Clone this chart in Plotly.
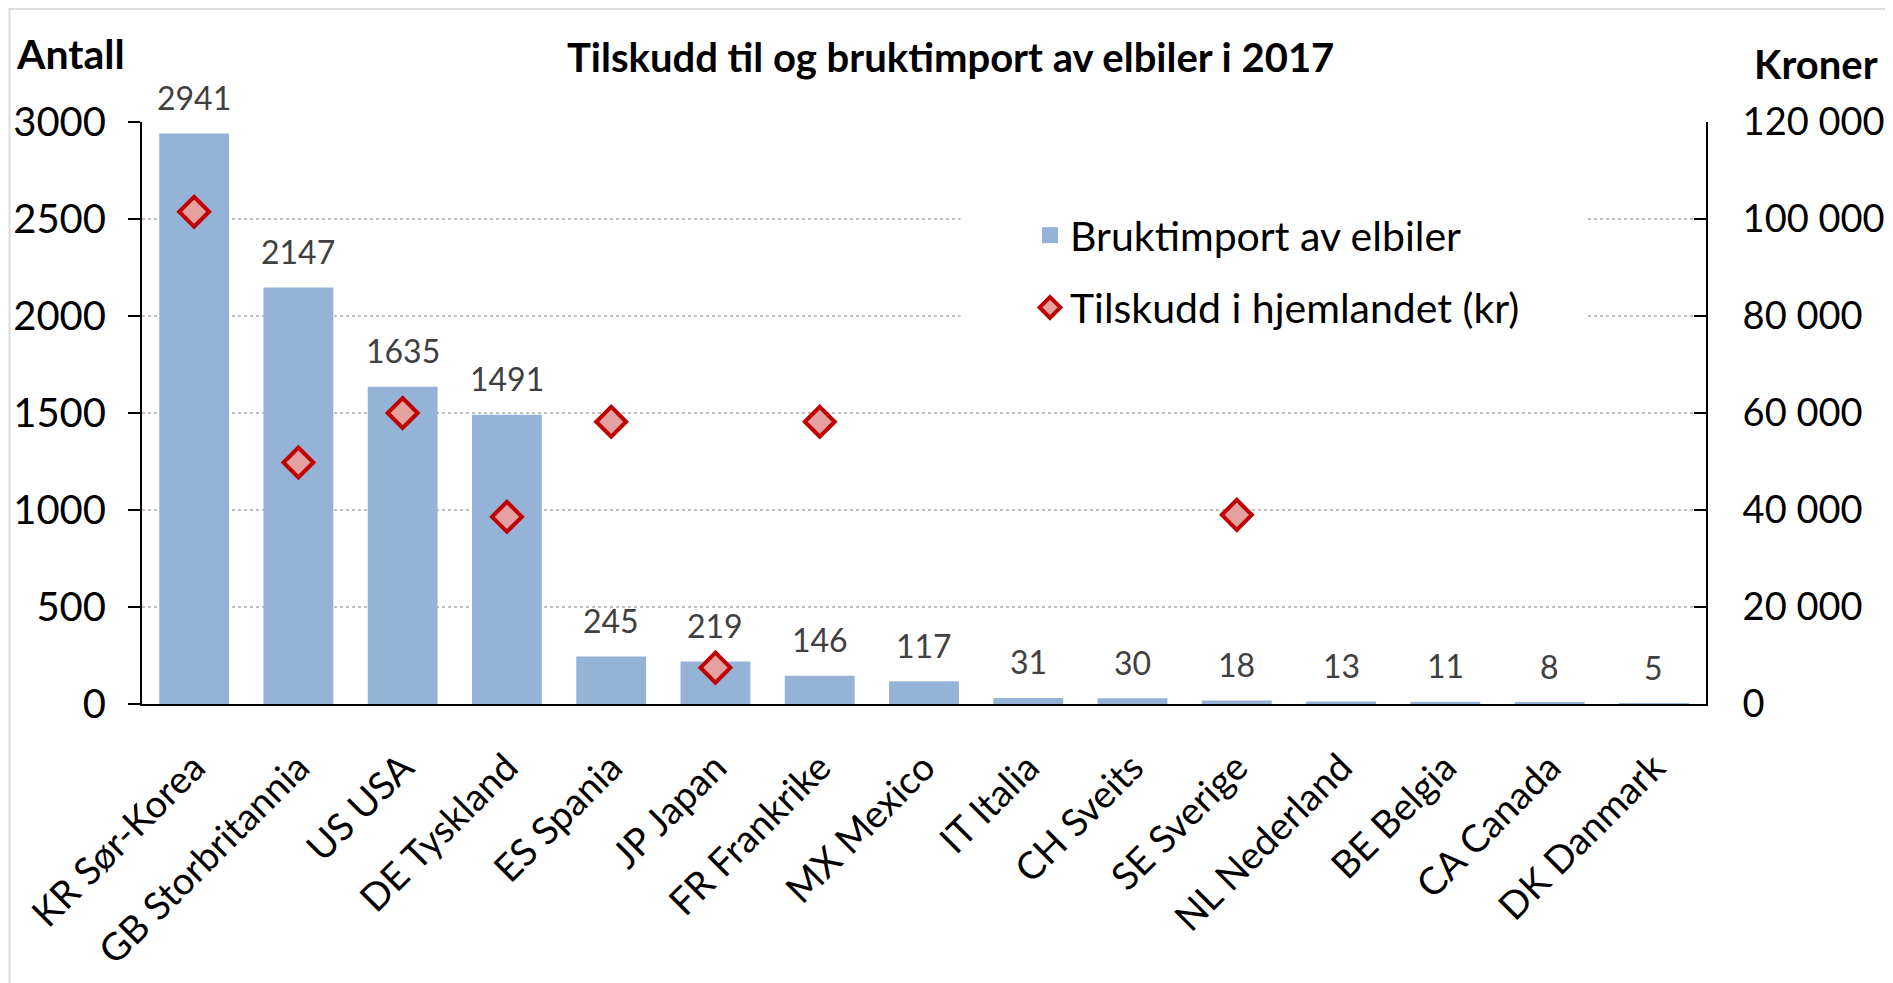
import plotly.graph_objects as go

# Data
countries = ['KR Sør-Korea', 'GB Storbritannia', 'US USA', 'DE Tyskland', 'ES Spania',
             'JP Japan', 'FR Frankrike', 'MX Mexico', 'IT Italia', 'CH Sveits',
             'SE Sverige', 'NL Nederland', 'BE Belgia', 'CA Canada', 'DK Danmark']
bruktimport = [2941, 2147, 1635, 1491, 245, 219, 146, 117, 31, 30, 18, 13, 11, 8, 5]
tilskudd = [101500, 49800, 60000, 38600, 58200, 7500, 58200, None, None, None,
            39000, None, None, None, None]

FONT = 'Lato, Carlito, Calibri, sans-serif'
BAR_COLOR = '#95B3D7'
MARKER_FILL = '#E5A0A0'
MARKER_LINE = '#C00000'

# figure pixels (page is offset by the 8px body margin)
W, H = 1893, 983
L, R, T, B = 134, 195, 114, 287
PW, PH = W - L - R, H - T - B


def px_x(px):
    return (px - L) / PW


def px_y(py):
    return (H - B - py) / PH


fig = go.Figure()

fig.add_trace(go.Bar(
    x=countries, y=bruktimport, name='Bruktimport av elbiler',
    marker=dict(color=BAR_COLOR, line=dict(width=0)),
    showlegend=False,
))

# legend entry for the bars (bigger square swatch)
fig.add_trace(go.Scatter(
    x=[None], y=[None], name='Bruktimport av elbiler', mode='markers',
    marker=dict(symbol='square', size=24, color=BAR_COLOR),
    legendgroup='a',
))

fig.add_trace(go.Scatter(
    x=countries, y=tilskudd, name='Tilskudd i hjemlandet (kr)', yaxis='y2',
    mode='markers',
    marker=dict(symbol='diamond', size=23, color=MARKER_FILL,
                line=dict(color=MARKER_LINE, width=4)),
    legendgroup='b',
))

# value labels above bars
labels = [dict(x=c, y=v, xref='x', yref='y', text=str(v), showarrow=False,
               yanchor='middle', yshift=36,
               font=dict(size=32, color='#404040'))
          for c, v in zip(countries, bruktimport)]

fig.update_layout(
    width=W, height=H,
    margin=dict(l=L, r=R, t=T, b=B),
    paper_bgcolor='white', plot_bgcolor='white',
    font=dict(family=FONT, size=38, color='black'),
    separators=', ',
    bargap=0.33,
    showlegend=True,
    legend=dict(x=px_x(1022), y=px_y(194), xanchor='left', yanchor='top',
                bgcolor='rgba(0,0,0,0)', font=dict(size=41),
                traceorder='grouped', tracegroupgap=16),
    xaxis=dict(range=[-0.5, 14.5], showline=True, linecolor='black', linewidth=2,
               ticks='', tickangle=-45, tickfont=dict(size=38), showgrid=False,
               ticklabelstandoff=24, automargin=False),
    yaxis=dict(range=[0, 3000], tick0=0, dtick=500, tickformat='d',
               showline=True, linecolor='black', linewidth=2,
               ticks='outside', ticklen=12, tickcolor='black', tickwidth=2,
               ticklabelstandoff=14, tickfont=dict(size=40), automargin=False,
               showgrid=True, gridcolor='#BFBFBF', griddash='dot', gridwidth=1.5,
               zeroline=False),
    yaxis2=dict(range=[0, 120000], tick0=0, dtick=20000, tickformat=',d',
                overlaying='y', side='right', showgrid=False, zeroline=False,
                showline=True, linecolor='black', linewidth=2, automargin=False,
                ticks='inside', ticklen=12, tickcolor='black', tickwidth=2,
                ticklabelstandoff=27, tickfont=dict(size=38)),
    shapes=[
        # white box behind legend hides gridlines
        dict(type='rect', xref='x', yref='y', x0=7.35, x1=13.35, y0=1880, y1=2720,
             fillcolor='white', line=dict(width=0), layer='between'),
        # outer chart border
        dict(type='rect', xref='paper', yref='paper',
             x0=px_x(1.5), x1=px_x(1884), y0=px_y(1000), y1=px_y(1),
             line=dict(color='#DCDCDC', width=2), fillcolor='rgba(0,0,0,0)'),
    ],
    annotations=labels + [
        dict(text='<b>Tilskudd til og bruktimport av elbiler i 2017</b>',
             xref='paper', yref='paper', x=px_x(942), y=px_y(49),
             xanchor='center', yanchor='middle', showarrow=False,
             font=dict(size=40)),
        dict(text='<b>Antall</b>', xref='paper', yref='paper',
             x=px_x(6), y=px_y(46), xanchor='left', yanchor='middle',
             showarrow=False, font=dict(size=41)),
        dict(text='<b>Kroner</b>', xref='paper', yref='paper',
             x=px_x(1872), y=px_y(56), xanchor='right', yanchor='middle',
             showarrow=False, font=dict(size=40)),
    ],
)

fig.write_html('out.html')
